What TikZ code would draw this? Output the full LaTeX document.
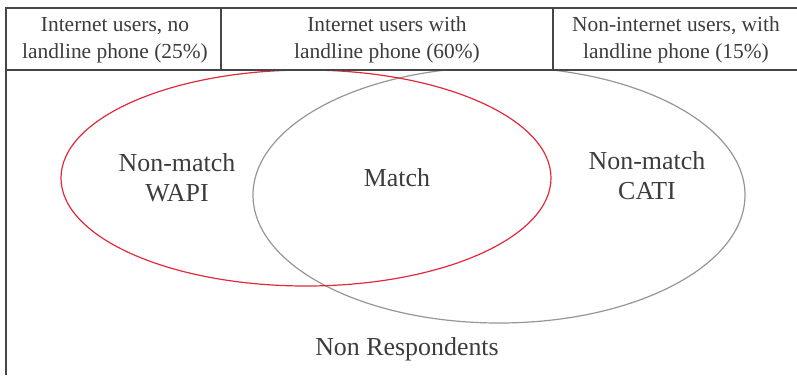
\documentclass[tikz,border=0pt]{standalone}
\usepackage{fontspec}
\setmainfont{Liberation Serif}
\usetikzlibrary{shapes.geometric}
\definecolor{txt}{RGB}{60,60,60}
\definecolor{rule}{RGB}{70,70,70}
\definecolor{redell}{RGB}{228,40,60}
\definecolor{grayell}{RGB}{150,150,150}
\tikzset{
  hdrtext/.style={align=center, text=txt, inner sep=0pt,
    font=\fontsize{21.5}{27}\selectfont},
  lbltext/.style={align=center, text=txt, inner sep=0pt,
    font=\fontsize{26}{30}\selectfont},
  rulestyle/.style={draw=rule, line width=1.4bp},
  venn/.style={ellipse, inner sep=0pt, line width=1.2bp}
}
\begin{document}
\begin{tikzpicture}[x=1bp,y=-1bp]
\useasboundingbox (0,0) rectangle (797,375);
% ellipses
\node[venn, draw=grayell, minimum width=492bp, minimum height=256bp] (cati) at (499,195) {};
\node[venn, draw=redell, minimum width=490bp, minimum height=216bp] (wapi) at (306,178) {};
% header
\coordinate (tl) at (6,8);
\coordinate (tr) at (797,8);
\coordinate (hl) at (6,70);
\coordinate (hr) at (797,70);
\coordinate (bl) at (6,375);
\coordinate (d1t) at (221,8);
\coordinate (d1b) at (221,70);
\coordinate (d2t) at (553,8);
\coordinate (d2b) at (553,70);
\fill[white] (tl) rectangle (hr);
\draw[rulestyle] (tr) -- (tl) -- (bl);
\draw[rulestyle] (hl) -- (hr);
\draw[rulestyle] (d1t) -- (d1b);
\draw[rulestyle] (d2t) -- (d2b);
\node[hdrtext] (h1) at (115,40) {Internet users, no\\landline phone (25\%)};
\node[hdrtext] (h2) at (387,40) {Internet users with\\landline phone (60\%)};
\node[hdrtext] (h3) at (676,40) {Non-internet users, with\\landline phone (15\%)};
% labels
\node[lbltext] (nmw) at (177,178) {Non-match\\WAPI};
\node[lbltext] (m) at (397,178) {Match};
\node[lbltext] (nmc) at (647,176) {Non-match\\CATI};
\node[lbltext] (nr) at (407,349) {Non Respondents};
\end{tikzpicture}
\end{document}
